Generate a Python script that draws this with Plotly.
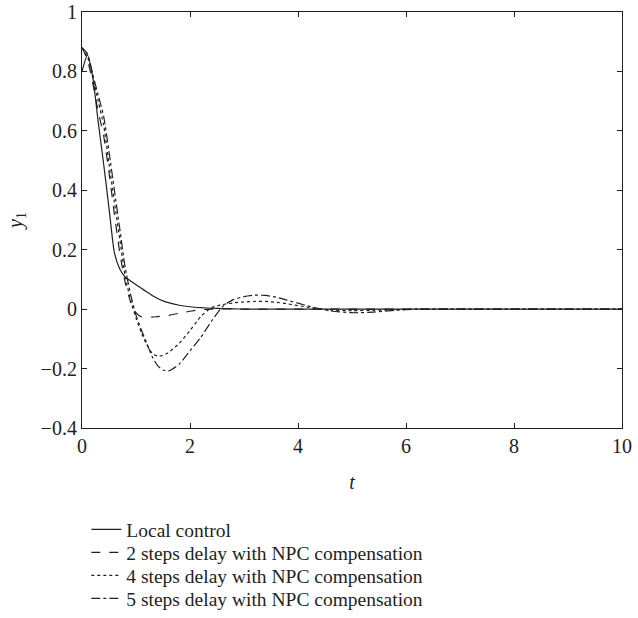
import plotly.graph_objects as go

t = [0, 0.1, 0.2, 0.3, 0.4, 0.5, 0.6, 0.7, 0.8, 0.9, 1.0, 1.1, 1.2, 1.3, 1.4, 1.5, 1.6, 1.8,
     2.0, 2.2, 2.4, 2.6, 2.8, 3.0, 3.2, 3.4, 3.6, 3.8, 4.0, 4.2, 4.6, 5.0, 5.4, 5.8, 6.2, 7, 8, 9, 10]

local_control = [0.80, 0.855, 0.78, 0.63, 0.49, 0.34, 0.19, 0.135, 0.108, 0.095, 0.082, 0.07, 0.058,
                 0.046, 0.036, 0.028, 0.022, 0.013, 0.008, 0.005, 0.003, 0.002, 0.001, 0.0, 0.0, 0.0,
                 0.0, 0.0, 0.0, 0.0, 0.0, 0.0, 0.0, 0.0, 0.0, 0.0, 0.0, 0.0, 0.0]

delay2 = [0.88, 0.84, 0.76, 0.665, 0.585, 0.46, 0.32, 0.19, 0.09, 0.025, -0.012, -0.026, -0.028,
          -0.027, -0.025, -0.023, -0.021, -0.014, -0.007, -0.002, 0.0, 0.001, 0.001, 0.0, 0.0, 0.0,
          0.0, 0.0, 0.0, 0.0, 0.0, 0.0, 0.0, 0.0, 0.0, 0.0, 0.0, 0.0, 0.0]

delay4 = [0.88, 0.85, 0.78, 0.70, 0.62, 0.49, 0.36, 0.235, 0.11, 0.03, -0.03, -0.08, -0.12,
          -0.148, -0.158, -0.156, -0.146, -0.115, -0.072, -0.025, 0.005, 0.015, 0.021, 0.024,
          0.026, 0.026, 0.023, 0.018, 0.012, 0.006, -0.003, -0.005, -0.004, -0.002, 0.0, 0.0, 0.0,
          0.0, 0.0]

delay5 = [0.88, 0.86, 0.79, 0.72, 0.65, 0.53, 0.40, 0.27, 0.14, 0.05, -0.02, -0.07, -0.115,
          -0.16, -0.19, -0.205, -0.208, -0.185, -0.14, -0.095, -0.04, 0.008, 0.032, 0.042, 0.047,
          0.046, 0.04, 0.03, 0.02, 0.01, -0.006, -0.012, -0.01, -0.004, 0.0, 0.0, 0.0, 0.0, 0.0]

names = ["Local control",
         "2 steps delay with NPC compensation",
         "4 steps delay with NPC compensation",
         "5 steps delay with NPC compensation"]
series = [local_control, delay2, delay4, delay5]
dashes = ["solid", "dash", "dot", "dashdot"]
legend_ids = ["legend", "legend2", "legend3", "legend4"]

INK = "#231f20"
FONT = "Liberation Serif"

fig = go.Figure()
for name, ys, d, lg in zip(names, series, dashes, legend_ids):
    fig.add_trace(go.Scatter(
        x=t, y=ys, name=name, mode="lines", legend=lg,
        line=dict(color=INK, width=1.2, dash=d, shape="spline", smoothing=0.6),
    ))

axis_common = dict(
    showgrid=False, zeroline=False, showline=True, linecolor=INK, linewidth=1.2,
    mirror="ticks", ticks="inside", ticklen=5, tickcolor=INK, tickwidth=1,
    tickfont=dict(family=FONT, size=20, color=INK), automargin=False,
    ticklabeloverflow="allow",
)

legend_top0 = -0.1975
legend_step = 0.0553
legend_common = dict(x=0.008, xanchor="left", yanchor="top",
                     font=dict(family=FONT, size=19.5, color=INK),
                     bgcolor="rgba(0,0,0,0)", itemwidth=30)

layout_legends = {}
for i, lg in enumerate(legend_ids):
    layout_legends[lg] = dict(y=legend_top0 - i * legend_step, **legend_common)

fig.update_layout(
    width=638, height=618,
    margin=dict(l=82, r=16, t=12, b=190, autoexpand=False),
    paper_bgcolor="white", plot_bgcolor="white",
    font=dict(family=FONT, size=19, color=INK),
    xaxis=dict(range=[0, 10], tickvals=[0, 2, 4, 6, 8, 10],
               title=dict(text="<i>t</i>", font=dict(family=FONT, size=20, color=INK), standoff=18),
               **axis_common),
    yaxis=dict(range=[-0.4, 1], tickvals=[-0.4, -0.2, 0, 0.2, 0.4, 0.6, 0.8, 1],
               ticktext=["\u22120.4", "\u22120.2", "0", "0.2", "0.4", "0.6", "0.8", "1"],
               title=dict(text="<i>y</i><sub>1</sub>", font=dict(family=FONT, size=20, color=INK), standoff=12),
               **axis_common),
    showlegend=True,
    **layout_legends,
)

fig.write_html("out.html", config={"displayModeBar": False},
               post_script="document.body.style.margin='0px';")
